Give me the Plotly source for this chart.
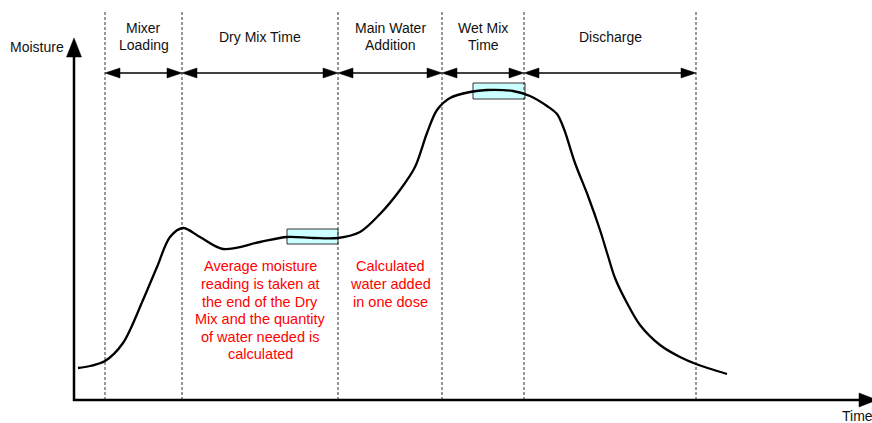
import plotly.graph_objects as go

# ---- data (time / moisture in arbitrary schematic units) ----
curve_time = [5, 17, 32, 50, 70, 84, 97, 110, 127, 150, 187, 214, 240, 265, 287, 307,
              327, 342, 354, 364, 377, 397, 414, 440, 457, 474, 484, 491, 502, 515,
              527, 535, 542, 554, 567, 587, 607, 623, 654]
curve_moisture = [33, 35, 40, 58, 101, 134, 164, 173, 164, 152, 159, 164, 163, 163, 169, 187,
                  211, 234, 268, 291, 303, 309, 311, 310, 305, 295, 287, 272, 238, 205,
                  171, 145, 123, 98, 76, 56, 44, 37, 27]

phase_bounds = [32, 109, 265, 369, 451, 623]
phase_labels = ["Mixer<br>Loading", "Dry Mix Time", "Main Water<br>Addition",
                "Wet Mix<br>Time", "Discharge"]

sample_windows = [(214, 265, 157, 172), (400, 452, 302, 318)]

note1_lines = ["Average moisture", "reading is taken at", "the end of the Dry",
               "Mix and the quantity", "of water needed is", "calculated"]
note2_lines = ["Calculated", "water added", "in one dose"]

FONT = "Arial, 'Liberation Sans', sans-serif"

fig = go.Figure()

fig.add_trace(go.Scatter(x=curve_time, y=curve_moisture, mode="lines",
                         line=dict(color="black", width=2.3, shape="spline", smoothing=0.9),
                         hoverinfo="skip", showlegend=False))

shapes = []
annotations = []

# sampling boxes
for x0, x1, y0, y1 in sample_windows:
    shapes.append(dict(type="rect", xref="x", yref="y", x0=x0, x1=x1, y0=y0, y1=y1,
                       fillcolor="#ccffff", line=dict(color="#333333", width=1), layer="below"))

# dashed phase boundaries
for b in phase_bounds:
    shapes.append(dict(type="line", xref="x", yref="y", x0=b, x1=b, y0=1, y1=391,
                       line=dict(color="#333333", width=1, dash="3px,2px"), layer="below"))

# double arrows + labels
arrow_y = 328
for i, lab in enumerate(phase_labels):
    a, b = phase_bounds[i], phase_bounds[i + 1]
    shapes.append(dict(type="line", xref="x", yref="y", x0=a + 8, x1=b - 8, y0=arrow_y, y1=arrow_y,
                       line=dict(color="black", width=1.3)))
    shapes.append(dict(type="path", xref="x", yref="y",
                       path=f"M {a} {arrow_y} L {a+15} {arrow_y+5} L {a+15} {arrow_y-5} Z",
                       fillcolor="black", line=dict(color="black", width=0.5)))
    shapes.append(dict(type="path", xref="x", yref="y",
                       path=f"M {b} {arrow_y} L {b-15} {arrow_y+5} L {b-15} {arrow_y-5} Z",
                       fillcolor="black", line=dict(color="black", width=0.5)))
    lines = lab.split("<br>")
    if len(lines) == 1:
        ys = [364]
    else:
        ys = [373, 356]
    for ln, yy in zip(lines, ys):
        annotations.append(dict(x=(a + b) / 2, y=yy, xref="x", yref="y", text=ln, showarrow=False,
                                font=dict(family=FONT, size=14, color="#111111"),
                                xanchor="center", yanchor="middle"))

# axes
shapes.append(dict(type="line", xref="x", yref="y", x0=1, x1=1, y0=0, y1=348,
                   line=dict(color="black", width=2.5)))
shapes.append(dict(type="path", xref="x", yref="y",
                   path="M 1 363 L -6.5 344 L 8.5 344 Z", fillcolor="black",
                   line=dict(color="black", width=0.5)))
shapes.append(dict(type="line", xref="x", yref="y", x0=0, x1=790, y0=1, y1=1,
                   line=dict(color="black", width=2.5)))
shapes.append(dict(type="path", xref="x", yref="y",
                   path="M 804 1 L 786 8 L 786 -6 Z", fillcolor="black",
                   line=dict(color="black", width=0.5)))

annotations.append(dict(x=-7, y=354, xref="x", yref="y", text="Moisture", showarrow=False,
                        font=dict(family=FONT, size=14, color="#111111"),
                        xanchor="right", yanchor="middle"))
annotations.append(dict(x=767, y=-15, xref="x", yref="y", text="Time", showarrow=False,
                        font=dict(family=FONT, size=14, color="#111111"),
                        xanchor="left", yanchor="middle"))

# red notes
note1_y = [135, 117, 99, 82, 64, 47]
for ln, yy in zip(note1_lines, note1_y):
    annotations.append(dict(x=187, y=yy, xref="x", yref="y", text=ln, showarrow=False,
                            font=dict(family=FONT, size=14.5, color="#ff0000"),
                            xanchor="center", yanchor="middle"))
note2_y = [135, 117, 99]
for ln, yy in zip(note2_lines, note2_y):
    annotations.append(dict(x=317, y=yy, xref="x", yref="y", text=ln, showarrow=False,
                            font=dict(family=FONT, size=14.5, color="#ff0000"),
                            xanchor="center", yanchor="middle"))

fig.update_layout(
    width=872, height=423,
    margin=dict(l=0, r=0, t=0, b=0),
    paper_bgcolor="white", plot_bgcolor="white",
    xaxis=dict(range=[-73, 799], visible=False, fixedrange=True),
    yaxis=dict(range=[-22, 401], visible=False, fixedrange=True),
    shapes=shapes, annotations=annotations, showlegend=False,
    hovermode=False,
)

fig.write_html("out.html",
               config={"displayModeBar": False, "staticPlot": True},
               post_script="document.body.style.margin='0';document.body.style.overflow='hidden';")
